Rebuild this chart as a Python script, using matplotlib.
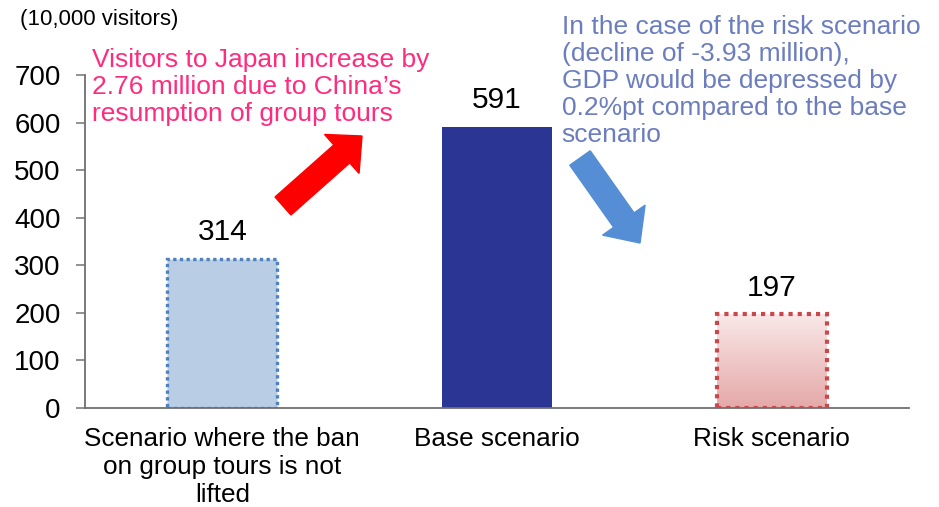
import numpy as np
import matplotlib
matplotlib.use("Agg")
import matplotlib.pyplot as plt
from matplotlib.patches import FancyArrow

plt.rcParams['font.family'] = ['Liberation Sans', 'DejaVu Sans']

# data
categories = ["Scenario where the ban\non group tours is not\nlifted",
              "Base scenario",
              "Risk scenario"]
visitors = [314, 591, 197]
y_ticks = [0, 100, 200, 300, 400, 500, 600, 700]

unit_label = "(10,000 visitors)"
note_up = "Visitors to Japan increase by\n2.76 million due to China\u2019s\nresumption of group tours"
note_down = ("In the case of the risk scenario\n(decline of -3.93 million),\n"
             "GDP would be depressed by\n0.2%pt compared to the base\nscenario")

fig = plt.figure(figsize=(9.39, 5.07), dpi=100)
ax = fig.add_axes([0.0905, 0.1953, 0.8775, 0.6567])

x = np.arange(len(categories))
bar_w = 0.40

# bar 1: light blue with dotted blue edge
ax.bar(x[0], visitors[0], width=bar_w, color='#B9CDE5', edgecolor='#4F81BD',
       linewidth=2.4, linestyle=(0, (1, 1)), zorder=2)
# bar 2: solid navy
ax.bar(x[1], visitors[1], width=bar_w, color='#2B3594', zorder=2)
# bar 3: pink gradient with dotted red edge
grad = np.linspace(0, 1, 256).reshape(-1, 1)
cmap = matplotlib.colors.LinearSegmentedColormap.from_list('pk', ['#E5A8A8', '#F9E8E8'])
ax.imshow(grad, cmap=cmap, origin='lower', aspect='auto', zorder=2,
          extent=[x[2] - bar_w / 2, x[2] + bar_w / 2, 0, visitors[2]])
ax.bar(x[2], visitors[2], width=bar_w, color='none', edgecolor='#C9484B',
       linewidth=3, linestyle=(0, (1, 1.2)), zorder=3)

for xi, v in zip(x, visitors):
    ax.annotate(str(v), (xi, v), xytext=(0, 9), textcoords='offset points',
                ha='center', va='bottom', fontsize=21.5)

ax.set_xlim(-0.5, 2.5)
ax.set_ylim(0, 700)
ax.set_yticks(y_ticks)
ax.set_xticks(x)
ax.set_xticklabels(categories, fontsize=18.8, linespacing=1.2)
ax.tick_params(axis='x', length=0, pad=14)
ax.tick_params(axis='y', labelsize=20, length=6.5, width=1.2, color='#7F7F7F', pad=11)

for s in ['top', 'right']:
    ax.spines[s].set_visible(False)
for s in ['left', 'bottom']:
    ax.spines[s].set_color('#6F6F6F')
    ax.spines[s].set_linewidth(1.3)

fig.text(0.021, 0.962, unit_label, fontsize=16, va='center', ha='left')
fig.text(0.098, 0.905, note_up, fontsize=19, color='#FF2B7E', va='top',
         ha='left', linespacing=1.16)
fig.text(0.598, 0.970, note_down, fontsize=19, color='#6B7DBE', va='top',
         ha='left', linespacing=1.16)

# block arrows (inches)
tr = fig.dpi_scale_trans
fig.add_artist(FancyArrow(2.83, 3.01, 0.79, 0.70, width=0.24, head_width=0.52,
                          head_length=0.27, length_includes_head=True,
                          color='#FF0000', transform=tr, zorder=5))
fig.add_artist(FancyArrow(5.80, 3.49, 0.60, -0.85, width=0.25, head_width=0.52,
                          head_length=0.28, length_includes_head=True,
                          color='#558ED5', transform=tr, zorder=5))

fig.savefig("out.png", dpi=100)
